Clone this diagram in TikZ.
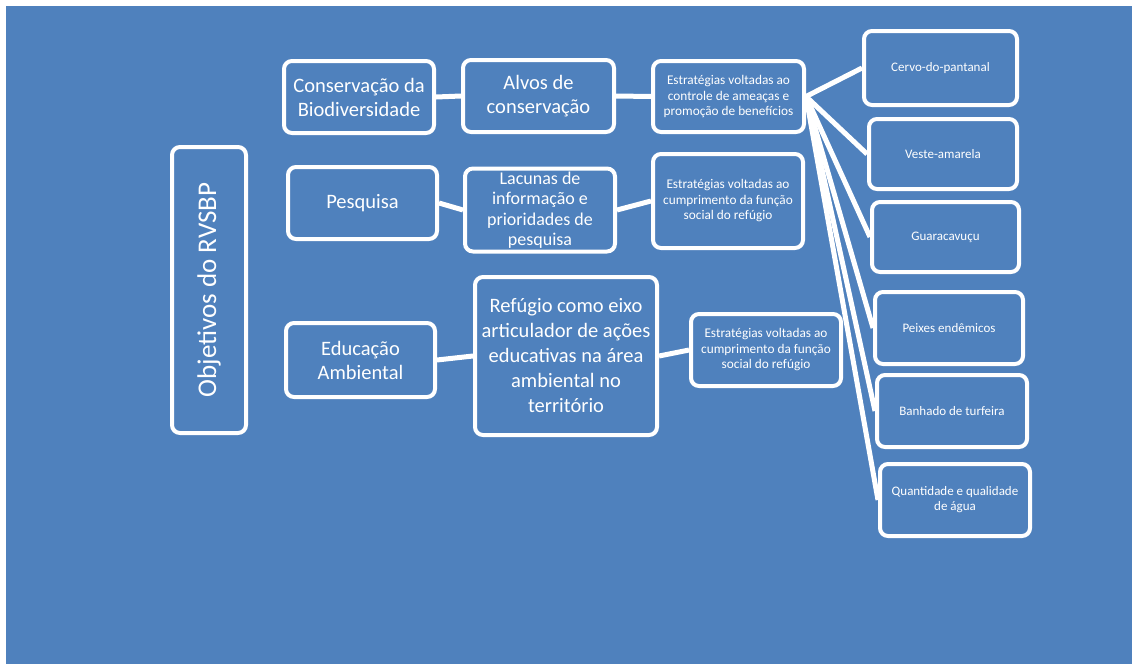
\documentclass[tikz,border=0pt]{standalone}
\usepackage{fontspec}
\setmainfont{Carlito}
\definecolor{bg}{RGB}{79,129,189}
\tikzset{
  box/.style={draw=white, line width=4pt, rounded corners=8pt, fill=bg, text=white, align=center, inner sep=0pt},
  big/.style={font=\fontsize{20.5}{24}\selectfont},
  mid/.style={font=\fontsize{18}{20.5}\selectfont},
  small/.style={font=\fontsize{13.3}{15.5}\selectfont},
  leaf/.style={font=\fontsize{13}{15}\selectfont},
  conn/.style={draw=white, line width=5pt}
}
\begin{document}
\begin{tikzpicture}[x=1pt,y=-1pt]
\useasboundingbox (0,0) rectangle (1132,664);
\fill[white] (0,0) rectangle (1132,664);
\fill[bg] (6,6) rectangle (1132,664);
% nodes
\node[box, rotate=90, minimum width=286pt, minimum height=74pt, font=\fontsize{27}{30}\selectfont] (obj) at (209,290) {Objetivos do RVSBP};
\node[box, big, minimum width=150pt, minimum height=72pt] (cons) at (359,97) {Conservação da\\Biodiversidade};
\node[box, big, minimum width=151pt, minimum height=72pt] (alvos) at (538.5,96) {Alvos de\\conservação};
\node[box, small, minimum width=151pt, minimum height=71pt] (estr1) at (728.5,96.5) {Estratégias voltadas ao\\controle de ameaças e\\promoção de benefícios};
\node[box, leaf, minimum width=153pt, minimum height=74pt] (cervo) at (940.5,68) {Cervo-do-pantanal};
\node[box, leaf, minimum width=148pt, minimum height=70pt] (veste) at (943,154) {Veste-amarela};
\node[box, leaf, minimum width=147pt, minimum height=70pt] (guara) at (945.5,237) {Guaracavuçu};
\node[box, leaf, minimum width=148pt, minimum height=72pt] (peixes) at (949,328) {Peixes endêmicos};
\node[box, leaf, minimum width=150pt, minimum height=72pt] (banhado) at (952,411) {Banhado de turfeira};
\node[box, leaf, minimum width=150pt, minimum height=72pt] (quant) at (955,500) {Quantidade e qualidade\\de água};
\node[box, big, minimum width=149pt, minimum height=72pt] (pesq) at (362.5,203) {Pesquisa};
\node[box, mid, minimum width=150pt, minimum height=83pt] (lac) at (540,210) {Lacunas de\\informação e\\prioridades de\\pesquisa};
\node[box, small, minimum width=150pt, minimum height=94pt] (estr2) at (728,201) {Estratégias voltadas ao\\cumprimento da função\\social do refúgio};
\node[box, big, minimum width=149pt, minimum height=74pt] (edu) at (360.5,360) {Educação\\Ambiental};
\node[box, font=\fontsize{20.5}{25}\selectfont, minimum width=182pt, minimum height=158pt] (ref) at (566,356) {Refúgio como eixo\\articulador de ações\\educativas na área\\ambiental no\\território};
\node[box, small, minimum width=150pt, minimum height=72pt] (estr3) at (766,350) {Estratégias voltadas ao\\cumprimento da função\\social do refúgio};
% connectors
\draw[conn] (cons.east) -- (alvos.west);
\draw[conn] (alvos.east) -- (estr1.west);
\draw[conn] (pesq.east) -- (lac.west);
\draw[conn] (lac.east) -- (estr2.west);
\draw[conn] (edu.east) -- (ref.west);
\draw[conn] (ref.east) -- (estr3.west);
\foreach \t in {cervo,veste,guara,peixes,banhado,quant}
  \draw[conn] (estr1.east) -- (\t.west);
\end{tikzpicture}
\end{document}
